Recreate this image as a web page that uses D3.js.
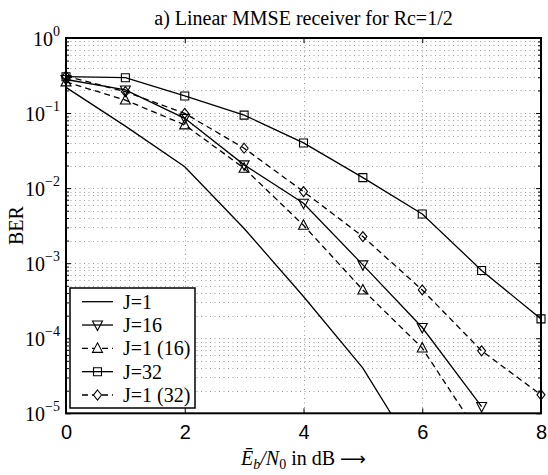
<!DOCTYPE html>
<html><head><meta charset="utf-8">
<script src="https://cdn.jsdelivr.net/npm/d3@7"></script>
<style>body{margin:0;background:#fff}svg{display:block}</style>
</head><body>
<svg id="c" width="548" height="475"></svg>
<script>
const snr = [0, 1, 2, 3, 4, 5, 6, 7, 8];
const berJ1 = [0.22, 0.067, 0.0193, 0.0029, 3.6e-4, 4.0e-5, 2.1e-6];
const berJ16 = [0.28, 0.203, 0.085, 0.0204, 0.0063, 0.00095, 1.39e-4, 1.23e-5];
const berJ1of16 = [0.26, 0.149, 0.0695, 0.0184, 0.0032, 4.4e-4, 7.4e-5, 4.6e-6];
const berJ32 = [0.305, 0.296, 0.169, 0.094, 0.040, 0.0138, 0.00453, 0.0008, 0.000181];
const berJ1of32 = [0.31, 0.193, 0.099, 0.034, 0.009, 0.00226, 0.00044, 6.8e-5, 1.76e-5];
const seriesNames = ["J=1", "J=16", "J=1 (16)", "J=32", "J=1 (32)"];
const xTicks = [0, 2, 4, 6, 8];
const yTicks = [1e-5, 1e-4, 1e-3, 1e-2, 1e-1, 1];
const titleText = "a) Linear MMSE receiver for Rc=1/2";

const series = [
  {name: seriesNames[0], vals: berJ1, dash: null, marker: null},
  {name: seriesNames[1], vals: berJ16, dash: null, marker: "tdown"},
  {name: seriesNames[2], vals: berJ1of16, dash: "6,4", marker: "tup"},
  {name: seriesNames[3], vals: berJ32, dash: null, marker: "square"},
  {name: seriesNames[4], vals: berJ1of32, dash: "6,4", marker: "diamond"}
];

const L = 66, R = 541, T = 38, B = 413.3;
const svg = d3.select("#c");
const x = d3.scaleLinear().domain([0, 8]).range([L, R]);
const y = d3.scaleLog().domain([1e-5, 1]).range([B, T]);
const font = "'Liberation Serif', 'Times New Roman', serif";

const minors = [];
for (let e = -5; e < 0; e++) for (let m = 2; m <= 9; m++) minors.push(m * Math.pow(10, e));

// grid
const grid = svg.append("g").attr("stroke", "#9a9a9a").attr("stroke-width", 1).attr("stroke-dasharray", "1,3.5");
grid.selectAll(".hy").data(yTicks.concat(minors)).enter().append("line")
  .attr("x1", L).attr("x2", R).attr("y1", d => Math.round(y(d)) + 0.5).attr("y2", d => Math.round(y(d)) + 0.5);
grid.selectAll(".vx").data(xTicks).enter().append("line")
  .attr("y1", T).attr("y2", B).attr("x1", d => Math.round(x(d)) + 0.5).attr("x2", d => Math.round(x(d)) + 0.5);

svg.append("clipPath").attr("id", "clip").append("rect").attr("x", L).attr("y", T).attr("width", R - L).attr("height", B - T);

const line = d3.line().x((d, i) => x(snr[i])).y(d => y(d));
const lines = svg.append("g").attr("clip-path", "url(#clip)");
series.forEach(s => {
  lines.append("path").attr("d", line(s.vals)).attr("fill", "none").attr("stroke", "#000")
    .attr("stroke-width", 1.3).attr("stroke-dasharray", s.dash);
});

function markerPath(type, cx, cy) {
  if (type === "square") return `M${cx - 4},${cy - 4}h8v8h-8Z`;
  if (type === "diamond") return `M${cx},${cy - 5}L${cx + 4},${cy}L${cx},${cy + 5}L${cx - 4},${cy}Z`;
  if (type === "tup") return `M${cx},${cy - 5.5}L${cx + 5},${cy + 4}L${cx - 5},${cy + 4}Z`;
  if (type === "tdown") return `M${cx},${cy + 5.5}L${cx + 5},${cy - 4}L${cx - 5},${cy - 4}Z`;
  return "";
}
const marks = svg.append("g");
series.forEach(s => {
  if (!s.marker) return;
  s.vals.forEach((v, i) => {
    if (v < 1e-5 || v > 1) return;
    marks.append("path").attr("d", markerPath(s.marker, x(snr[i]), y(v)))
      .attr("fill", "none").attr("stroke", "#000").attr("stroke-width", 1.1);
  });
});

// axes ticks
const ax = svg.append("g").attr("font-family", font);
const xb = ax.append("g").attr("transform", `translate(0,${B})`)
  .call(d3.axisBottom(x).tickValues(xTicks).tickSize(-5).tickPadding(12).tickFormat(d3.format("d")));
ax.append("g").attr("transform", `translate(0,${T})`)
  .call(d3.axisTop(x).tickValues(xTicks).tickSize(-5).tickFormat(""));
const yl = ax.append("g").attr("transform", `translate(${L},0)`)
  .call(d3.axisLeft(y).tickValues(yTicks).tickSize(-5).tickPadding(8).tickFormat(""));
ax.append("g").attr("transform", `translate(${R},0)`)
  .call(d3.axisRight(y).tickValues(yTicks).tickSize(-5).tickFormat(""));
ax.append("g").attr("transform", `translate(${L},0)`)
  .call(d3.axisLeft(y).tickValues(minors).tickSize(-3).tickFormat(""));
ax.append("g").attr("transform", `translate(${R},0)`)
  .call(d3.axisRight(y).tickValues(minors).tickSize(-3).tickFormat(""));
ax.selectAll(".domain").remove();
ax.selectAll(".tick line").attr("stroke", "#000").attr("stroke-width", 1);
xb.selectAll("text").attr("font-size", 20).attr("fill", "#000").attr("dy", "0.71em");

yl.selectAll(".tick").each(function(d) {
  const g = d3.select(this);
  g.select("text").remove();
  const t = g.append("text").attr("x", -6).attr("y", 7).attr("text-anchor", "end")
    .attr("font-family", font).attr("font-size", 20).attr("fill", "#000");
  t.append("tspan").text("10");
  t.append("tspan").attr("dy", -10).attr("font-size", 14).text(d3.format("d")(Math.log10(d)).replace("-", "\u2212"));
});

// box
svg.append("rect").attr("x", L).attr("y", T).attr("width", R - L).attr("height", B - T)
  .attr("fill", "none").attr("stroke", "#000").attr("stroke-width", 2);

// title
svg.append("text").attr("x", (L + R) / 2).attr("y", 25).attr("text-anchor", "middle")
  .attr("font-family", font).attr("font-size", 20).text(titleText);

// y label
svg.append("text").attr("transform", `translate(23,${(T + B) / 2}) rotate(-90)`).attr("text-anchor", "middle")
  .attr("font-family", font).attr("font-size", 20).text("BER");

// x label
const xl = svg.append("text").attr("x", (L + R) / 2).attr("y", 465).attr("text-anchor", "middle")
  .attr("font-family", font).attr("font-size", 20);
xl.append("tspan").attr("font-style", "italic").text("E\u0304");
xl.append("tspan").attr("font-style", "italic").attr("font-size", 14).attr("dy", 4).text("b");
xl.append("tspan").attr("font-style", "italic").attr("dy", -4).text("/N");
xl.append("tspan").attr("font-size", 14).attr("dy", 4).text("0");
xl.append("tspan").attr("dy", -4).text(" in dB ");
xl.append("tspan").attr("font-family", "'DejaVu Sans'").attr("font-size", 18).text("\u27F6");

// legend
const lg = svg.append("g");
const lx = 70, ly = 288, lw = 125, lh = 120;
lg.append("rect").attr("x", lx).attr("y", ly).attr("width", lw).attr("height", lh)
  .attr("fill", "#fff").attr("stroke", "#000").attr("stroke-width", 1.5);
const ey = d3.scaleLinear().domain([0, 4]).range([301.7, 395]);
series.forEach((s, i) => {
  const yy = ey(i);
  lg.append("line").attr("x1", 82).attr("x2", 113).attr("y1", yy).attr("y2", yy)
    .attr("stroke", "#000").attr("stroke-width", 1.3).attr("stroke-dasharray", s.dash);
  if (s.marker) lg.append("path").attr("d", markerPath(s.marker, 97.5, yy)).attr("fill", s.dash ? "#fff" : "none")
    .attr("stroke", "#000").attr("stroke-width", 1.1);
  lg.append("text").attr("x", 123).attr("y", yy + 7).attr("font-family", font).attr("font-size", 20).text(s.name);
});
</script>
</body></html>
